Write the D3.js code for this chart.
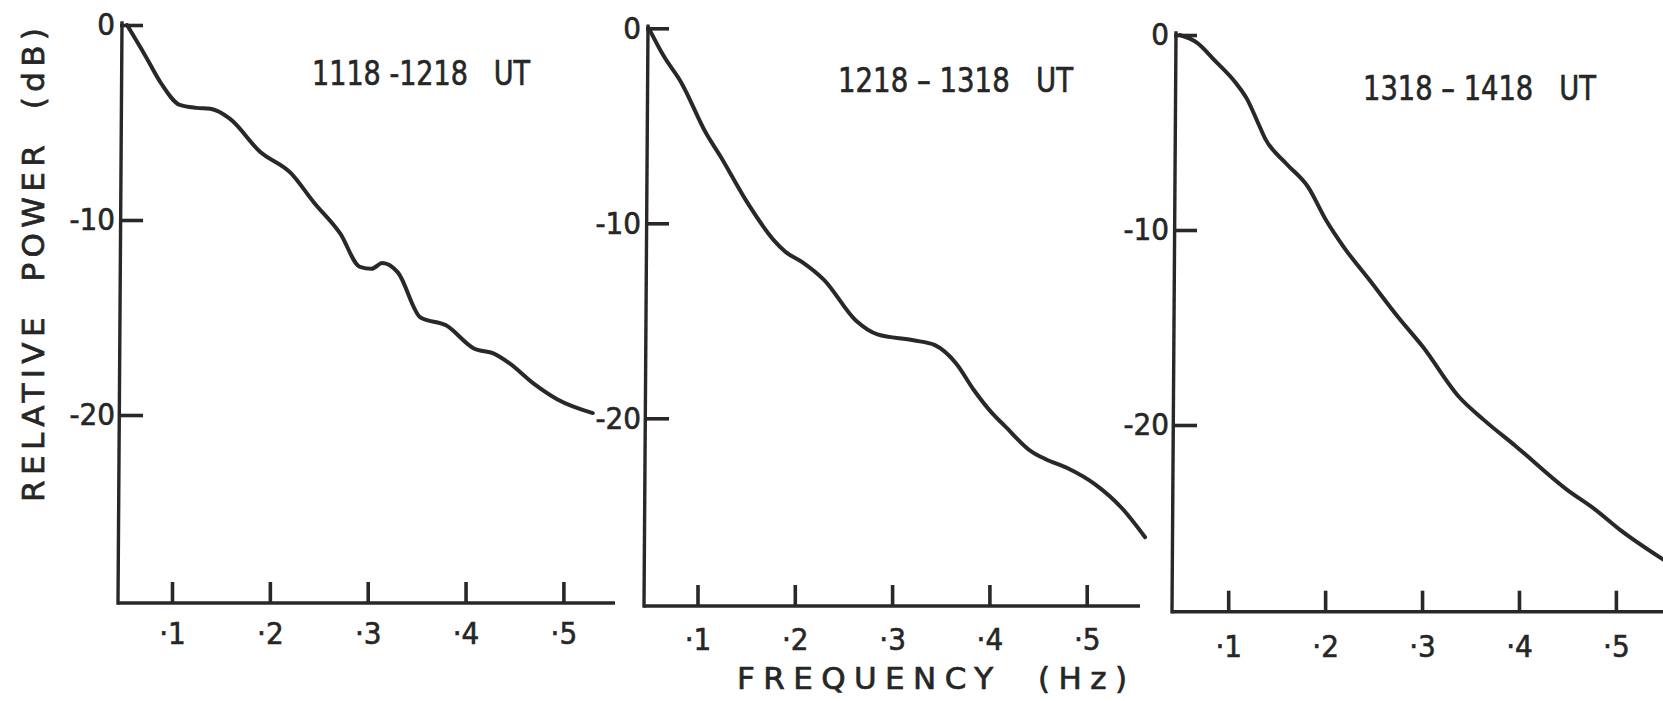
<!DOCTYPE html>
<html>
<head>
<meta charset="utf-8">
<script src="https://cdn.jsdelivr.net/npm/d3@7"></script>
<style>
  html, body { margin: 0; padding: 0; background: #ffffff; }
  svg { display: block; }
  text { fill: #262626; white-space: pre; }
  .num { font-family: "Liberation Sans Narrow", "DejaVu Sans Condensed", "DejaVu Sans", sans-serif; }
  .caps { font-family: "DejaVu Sans", "Liberation Sans", sans-serif; }
</style>
</head>
<body>
<svg id="chart" width="1663" height="701"></svg>
<script>
// Relative power spectra for three one-hour intervals (frequency in Hz, power in dB)
const freq1  = [0.054, 0.073, 0.089, 0.108, 0.125, 0.139, 0.159, 0.190, 0.2215, 0.245, 0.272, 0.292, 0.304, 0.315, 0.331, 0.354, 0.380, 0.409, 0.429, 0.445, 0.470, 0.494, 0.530];
const power1 = [0, -1.6, -3.0, -4.1, -4.25, -4.3, -4.8, -6.5, -7.6, -9.1, -10.7, -12.4, -12.5, -12.2, -12.7, -15.0, -15.4, -16.6, -16.85, -17.35, -18.4, -19.2, -19.9];

const freq2  = [0.050, 0.065, 0.0835, 0.109, 0.124, 0.1495, 0.179, 0.190, 0.208, 0.230, 0.263, 0.285, 0.322, 0.344, 0.366, 0.384, 0.403, 0.416, 0.443, 0.458, 0.480, 0.509, 0.536, 0.560];
const power2 = [0, -1.4, -2.8, -5.4, -6.6, -8.8, -10.9, -11.45, -12.0, -12.9, -15.0, -15.7, -16.0, -16.25, -17.2, -18.55, -19.75, -20.4, -21.7, -22.1, -22.55, -23.4, -24.6, -26.1];

const freq3  = [0.050, 0.068, 0.086, 0.1085, 0.1196, 0.1307, 0.138, 0.160, 0.1825, 0.201, 0.2196, 0.2456, 0.275, 0.301, 0.338, 0.364, 0.397, 0.449, 0.479, 0.505, 0.549];
const power3 = [0, -0.4, -1.3, -2.5, -3.3, -4.5, -5.3, -6.6, -7.8, -9.5, -10.9, -12.55, -14.45, -16.0, -18.55, -19.75, -21.1, -23.3, -24.35, -25.4, -26.9];

const periods = ["1118 -1218   UT", "1218 – 1318   UT", "1318 – 1418   UT"];
const freqTicks = [0.1, 0.2, 0.3, 0.4, 0.5];
const freqTickLabels = ["·1", "·2", "·3", "·4", "·5"];
const powerTicks = [0, -10, -20];
const powerTickLabels = ["0", "-10", "-20"];
const xTitle = "FREQUENCY  (Hz)";
const yTitle = "RELATIVE  POWER  (dB)";

const series = [
  { f: freq1, p: power1 },
  { f: freq2, p: power2 },
  { f: freq3, p: power3 }
];

// Panel frames (pixel geometry of each hand-lettered plot)
const frames = [
  { axTop: 122, axBot: 118, fx1: 172,   fx5: 563.4,  y0: 25,   y20: 415,   yb: 603,   xEnd: 615,  tx: 312,   tw: 218, ty: 73.5, pad: 19 },
  { axTop: 648, axBot: 644, fx1: 697.5, fx5: 1086.7, y0: 28.3, y20: 418.3, yb: 606,   xEnd: 1140, tx: 838,   tw: 235, ty: 80,   pad: 22 },
  { axTop: 1176, axBot: 1172, fx1: 1228.2, fx5: 1615.9, y0: 35, y20: 425,  yb: 611.7, xEnd: 1663, tx: 1363,  tw: 233, ty: 88.5, pad: 23 }
];

const ink = "#282828";
const svg = d3.select("#chart");

frames.forEach((fr, i) => {
  const x = d3.scaleLinear().domain([0.1, 0.5]).range([fr.fx1, fr.fx5]);
  const y = d3.scaleLinear().domain([0, -20]).range([fr.y0, fr.y20]);
  const g = svg.append("g");

  // Axis lines
  g.append("line")
    .attr("x1", fr.axTop).attr("y1", fr.y0 - 2)
    .attr("x2", fr.axBot).attr("y2", fr.yb)
    .attr("stroke", ink).attr("stroke-width", 3.4).attr("stroke-linecap", "square");
  g.append("line")
    .attr("x1", fr.axBot).attr("y1", fr.yb)
    .attr("x2", fr.xEnd).attr("y2", fr.yb)
    .attr("stroke", ink).attr("stroke-width", 3.6);

  // Power ticks (pointing into the plot)
  const yAxis = d3.axisLeft(y)
    .tickValues(powerTicks)
    .tickSize(-23)
    .tickPadding(5)
    .tickFormat((d, k) => powerTickLabels[k]);
  const gy = g.append("g")
    .attr("transform", `translate(${(fr.axTop + fr.axBot) / 2},0)`)
    .call(yAxis);
  gy.select(".domain").remove();
  gy.selectAll(".tick line").attr("stroke", ink).attr("stroke-width", 3.6);
  gy.selectAll(".tick text")
    .attr("class", "num")
    .attr("font-family", null)
    .attr("font-size", 31).attr("fill", "#262626")
    .attr("stroke", "#262626").attr("stroke-width", 0.6);

  // Frequency ticks (pointing upward)
  const xAxis = d3.axisBottom(x)
    .tickValues(freqTicks)
    .tickSize(-21)
    .tickPadding(fr.pad)
    .tickFormat((d, k) => freqTickLabels[k]);
  const gx = g.append("g")
    .attr("transform", `translate(0,${fr.yb})`)
    .call(xAxis);
  gx.select(".domain").remove();
  gx.selectAll(".tick line").attr("stroke", ink).attr("stroke-width", 3.6);
  gx.selectAll(".tick text")
    .attr("class", "num")
    .attr("font-family", null)
    .attr("font-size", 31).attr("fill", "#262626")
    .attr("stroke", "#262626").attr("stroke-width", 0.6);

  // Spectrum curve
  const pts = series[i].f.map((f, k) => [f, series[i].p[k]]);
  const line = d3.line()
    .x(d => x(d[0]))
    .y(d => y(d[1]))
    .curve(d3.curveMonotoneX);
  g.append("path")
    .datum(pts)
    .attr("d", line)
    .attr("fill", "none")
    .attr("stroke", ink)
    .attr("stroke-width", 4)
    .attr("stroke-linejoin", "round")
    .attr("stroke-linecap", "round");

  // Interval label
  g.append("text")
    .attr("class", "num")
    .attr("x", fr.tx)
    .attr("y", fr.ty + 11.8)
    .attr("font-size", 33)
    .attr("textLength", fr.tw)
    .attr("lengthAdjust", "spacingAndGlyphs")
    .attr("stroke", "#262626").attr("stroke-width", 0.6)
    .text(periods[i]);
});

// Shared axis titles
svg.append("text")
  .attr("class", "caps")
  .attr("x", 737).attr("y", 689)
  .attr("font-size", 31)
  .attr("textLength", 390)
  .attr("lengthAdjust", "spacing")
  .attr("stroke", "#262626").attr("stroke-width", 0.7)
  .text(xTitle);

svg.append("text")
  .attr("class", "caps")
  .attr("transform", "translate(44,265) rotate(-90)")
  .attr("text-anchor", "middle")
  .attr("font-size", 31)
  .attr("textLength", 474)
  .attr("lengthAdjust", "spacing")
  .attr("stroke", "#262626").attr("stroke-width", 0.7)
  .text(yTitle);
</script>
</body>
</html>
